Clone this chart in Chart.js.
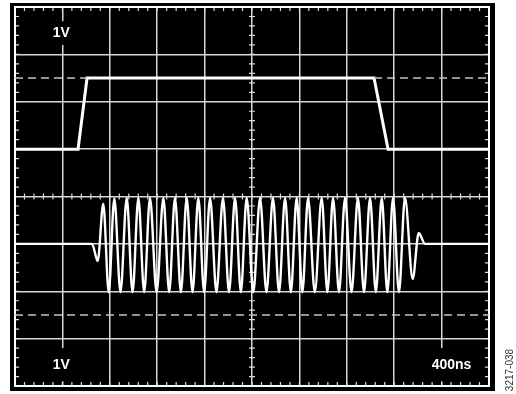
<!DOCTYPE html>
<html>
<head>
<meta charset="utf-8">
<title>Scope capture</title>
<script src="https://cdn.jsdelivr.net/npm/chart.js@4/dist/chart.umd.min.js"></script>
<style>
    html, body { margin: 0; padding: 0; background: #ffffff; }
    #wrap { position: relative; width: 516px; height: 394px; }
</style>
</head>
<body>
<div id="wrap"><canvas id="scopeChart"></canvas></div>
<script>
"use strict";

// time axis in ns (400ns/div, 10 div), voltage in V (1V/div, 8 div)
const timeTicks = [0, 400, 800, 1200, 1600, 2000, 2400, 2800, 3200, 3600, 4000];
const voltTicks = [-4, -3, -2, -1, 0, 1, 2, 3, 4];

// channel 1: gate pulse
const pulseT = [0, 532, 608, 3030, 3148, 4000];
const pulseV = [1, 1, 2.5, 2.5, 1, 1];

// channel 2: RF burst (baseline, peaks and troughs)
const burstT = [
    0, 650, 698, 745,
    791, 838, 890, 943, 992, 1041, 1090, 1139, 1195, 1252,
    1301, 1350, 1400, 1449, 1498, 1547, 1596, 1646, 1700, 1755,
    1806, 1857, 1906, 1955, 2011, 2068, 2122, 2177, 2228, 2279,
    2328, 2377, 2425, 2473, 2530, 2588, 2636, 2684, 2734, 2785,
    2840, 2894, 2945, 2996, 3045, 3095, 3142, 3190, 3240, 3291,
    3356, 3407, 3460, 4000
];
const burstV = [
    -1, -1, -1.36, -0.15,
    -2.02, -0.04, -2.02, -0.03, -2.02, -0.03, -2.02, -0.03, -2.02, -0.03,
    -2.02, -0.03, -2.02, -0.03, -2.02, -0.03, -2.02, -0.03, -2.02, -0.03,
    -2.02, -0.03, -2.02, -0.03, -2.02, -0.03, -2.02, -0.03, -2.02, -0.03,
    -2.02, -0.03, -2.02, -0.03, -2.02, -0.03, -2.02, -0.03, -2.02, -0.03,
    -2.02, -0.03, -2.02, -0.03, -2.02, -0.03, -2.02, -0.03, -2.02, -0.03,
    -1.74, -0.77, -1, -1
];

// dashed reference levels
const upperRefT = [0, 608, 1800, 3030, 4000];
const upperRefV = [2.5, 2.5, null, 2.5, 2.5];
const lowerRefT = [0, 4000];
const lowerRefV = [-2.5, -2.5];

// scale readouts: centre (ns, V) and blanking box (div offsets / V)
const scopeLabels = [
    { text: "1V", t: 390, v: 3.45, box: [-0.8, 0.8, 3.7, 3.2] },
    { text: "1V", t: 390, v: -3.56, box: [-0.8, 0.8, -3.2, -3.9] },
    { text: "400ns", t: 3684, v: -3.56, box: [-1.05, 1.05, -3.2, -3.9] }
];

const toPoints = (xs, ys) => xs.map((x, i) => ({ x: x, y: ys[i] }));

const scopePlugin = {

    id: "scopeFrame",

    beforeDraw(chart) {

        const ctx = chart.ctx;
        const a = chart.chartArea;

        ctx.save();
        ctx.fillStyle = "#ffffff";
        ctx.fillRect(0, 0, chart.width, chart.height);
        ctx.fillStyle = "#000000";
        ctx.fillRect(a.left - 5, a.top - 4, a.right - a.left + 11, a.bottom - a.top + 9);
        ctx.restore();
    },

    beforeDatasetsDraw(chart) {

        const ctx = chart.ctx;
        const a = chart.chartArea;
        const xs = chart.scales.x;
        const ys = chart.scales.y;

        ctx.save();
        ctx.strokeStyle = "#dcdcdc";
        ctx.lineWidth = 1.2;
        ctx.beginPath();

        const xc = xs.getPixelForValue(2000);
        const yc = ys.getPixelForValue(0);

        for (let t = 80; t < 4000; t += 80) {
            const px = xs.getPixelForValue(t);
            ctx.moveTo(px, a.top); ctx.lineTo(px, a.top + 4);
            ctx.moveTo(px, a.bottom); ctx.lineTo(px, a.bottom - 4);
            ctx.moveTo(px, yc - 3); ctx.lineTo(px, yc + 3);
        }

        for (let v = -3.8; v < 4; v += 0.2) {
            const py = ys.getPixelForValue(v);
            ctx.moveTo(a.left, py); ctx.lineTo(a.left + 4, py);
            ctx.moveTo(a.right, py); ctx.lineTo(a.right - 4, py);
            ctx.moveTo(xc - 3, py); ctx.lineTo(xc + 3, py);
        }

        ctx.stroke();

        ctx.strokeStyle = "#ffffff";
        ctx.lineWidth = 2;
        ctx.strokeRect(a.left, a.top, a.right - a.left, a.bottom - a.top);

        ctx.font = "bold 14px 'Liberation Sans', Arial, sans-serif";
        ctx.textAlign = "center";
        ctx.textBaseline = "middle";

        scopeLabels.forEach(label => {

            const l = xs.getPixelForValue(label.t + label.box[0] * 400 / 2);
            const r = xs.getPixelForValue(label.t + label.box[1] * 400 / 2);
            const top = ys.getPixelForValue(label.box[2]);
            const bottom = ys.getPixelForValue(label.box[3]);

            ctx.fillStyle = "#000000";
            ctx.fillRect(l, top, r - l, bottom - top);

            ctx.fillStyle = "#ffffff";
            ctx.fillText(label.text, xs.getPixelForValue(label.t), ys.getPixelForValue(label.v));
        });

        ctx.restore();
    },

    afterDraw(chart) {

        const ctx = chart.ctx;

        ctx.save();
        ctx.translate(510, 370);
        ctx.rotate(-Math.PI / 2);
        ctx.font = "10px 'Liberation Sans', Arial, sans-serif";
        ctx.fillStyle = "#333333";
        ctx.textAlign = "center";
        ctx.textBaseline = "middle";
        ctx.fillText("3217-038", 0, 0);
        ctx.restore();
    }
};

const ScopeController = {

    initialize() {

        this.renderChart();
    },

    renderChart() {

        if (typeof Chart === "undefined") {
            console.error("Chart.js not loaded.");
            return;
        }

        const canvas = document.getElementById("scopeChart");

        new Chart(canvas, {

            type: "line",

            data: {
                datasets: [
                    {
                        label: "ref upper",
                        data: toPoints(upperRefT, upperRefV),
                        borderColor: "#c4c4c4",
                        borderWidth: 1.5,
                        borderDash: [8, 5],
                        pointRadius: 0,
                        tension: 0,
                        spanGaps: false
                    },
                    {
                        label: "ref lower",
                        data: toPoints(lowerRefT, lowerRefV),
                        borderColor: "#c4c4c4",
                        borderWidth: 1.5,
                        borderDash: [8, 5],
                        pointRadius: 0,
                        tension: 0
                    },
                    {
                        label: "CH1",
                        data: toPoints(pulseT, pulseV),
                        borderColor: "#ffffff",
                        borderWidth: 3,
                        pointRadius: 0,
                        tension: 0
                    },
                    {
                        label: "CH2",
                        data: toPoints(burstT, burstV),
                        borderColor: "#ffffff",
                        borderWidth: 2.4,
                        pointRadius: 0,
                        cubicInterpolationMode: "monotone"
                    }
                ]
            },

            options: {

                responsive: true,
                maintainAspectRatio: false,
                animation: false,
                events: [],

                layout: {
                    padding: { left: 15, top: 7, right: 27, bottom: 8 }
                },

                plugins: {
                    legend: { display: false },
                    tooltip: { enabled: false }
                },

                scales: {

                    x: {
                        type: "linear",
                        min: timeTicks[0],
                        max: timeTicks[timeTicks.length - 1],
                        afterBuildTicks: scale => {
                            scale.ticks = timeTicks.map(v => ({ value: v }));
                        },
                        ticks: { display: false },
                        border: { display: false },
                        grid: {
                            color: "#d8d8d8",
                            lineWidth: 1.5,
                            drawTicks: false
                        }
                    },

                    y: {
                        type: "linear",
                        min: voltTicks[0],
                        max: voltTicks[voltTicks.length - 1],
                        afterBuildTicks: scale => {
                            scale.ticks = voltTicks.map(v => ({ value: v }));
                        },
                        ticks: { display: false },
                        border: { display: false },
                        grid: {
                            color: "#d8d8d8",
                            lineWidth: 1.5,
                            drawTicks: false
                        }
                    }
                }
            },

            plugins: [scopePlugin]
        });
    }
};

document.addEventListener("DOMContentLoaded", () => {

    try {
        ScopeController.initialize();
    } catch (error) {
        console.error("Scope chart initialization failed", error);
    }
});
</script>
</body>
</html>
